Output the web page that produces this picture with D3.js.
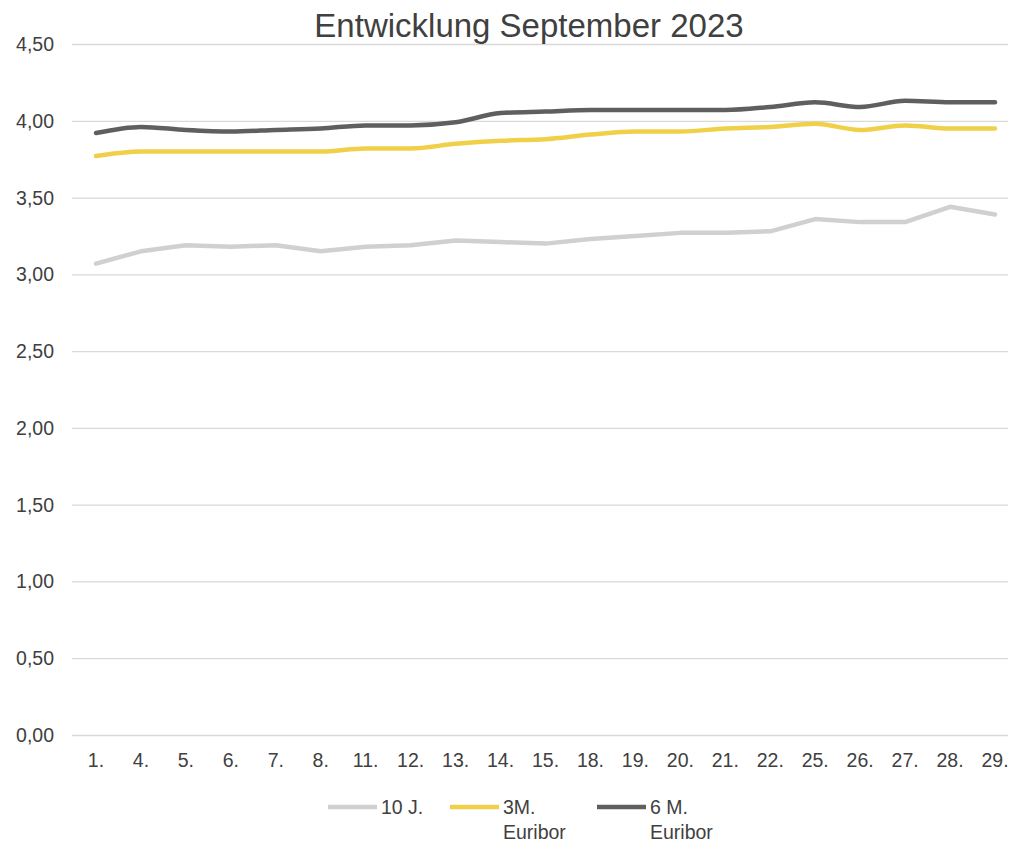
<!DOCTYPE html>
<html>
<head>
<meta charset="utf-8">
<style>
body { margin: 0; background: #fff; }
svg { display: block; font-family: "Liberation Sans", Arial, sans-serif; }
.grid line { stroke: #d9d9d9; stroke-width: 1.3px; }
.grid .domain { display: none; }
.ylab { font-size: 19.5px; fill: #404040; }
.xlab { font-size: 19.5px; fill: #404040; }
.legend text { font-size: 19.5px; fill: #404040; }
</style>
<script src="https://d3js.org/d3.v7.min.js"></script>
</head>
<body>
<svg width="1010" height="842"></svg>
<script>
// days of September 2023 with quotes
var days = ["1.", "4.", "5.", "6.", "7.", "8.", "11.", "12.", "13.", "14.", "15.",
            "18.", "19.", "20.", "21.", "22.", "25.", "26.", "27.", "28.", "29."];

var zehnJahre = [3.07, 3.15, 3.19, 3.18, 3.19, 3.15, 3.18, 3.19, 3.22, 3.21, 3.20,
                 3.23, 3.25, 3.27, 3.27, 3.28, 3.36, 3.34, 3.34, 3.44, 3.39];

var euribor3M = [3.77, 3.80, 3.80, 3.80, 3.80, 3.80, 3.82, 3.82, 3.85, 3.87, 3.88,
                 3.91, 3.93, 3.93, 3.95, 3.96, 3.98, 3.94, 3.97, 3.95, 3.95];

var euribor6M = [3.92, 3.96, 3.94, 3.93, 3.94, 3.95, 3.97, 3.97, 3.99, 4.05, 4.06,
                 4.07, 4.07, 4.07, 4.07, 4.09, 4.12, 4.09, 4.13, 4.12, 4.12];

var yTicks = [0, 0.5, 1, 1.5, 2, 2.5, 3, 3.5, 4, 4.5];

var series = [
  {name: ["10 J."], values: zehnJahre, color: "#d0d0d0", curve: d3.curveLinear},
  {name: ["3M.", "Euribor"], values: euribor3M, color: "#f0d048", curve: d3.curveMonotoneX},
  {name: ["6 M.", "Euribor"], values: euribor6M, color: "#5f5f5f", curve: d3.curveMonotoneX}
];

var svg = d3.select("svg");

var de = d3.formatLocale({decimal: ",", thousands: ".", grouping: [3], currency: ["", " €"]});
var fmt = de.format(".2f");

var x = d3.scalePoint()
    .domain(days)
    .range([96, 995]);

var y = d3.scaleLinear()
    .domain([0, 4.5])
    .range([735, 44]);

// gridlines
svg.append("g")
    .attr("class", "grid")
    .attr("transform", "translate(1008,0)")
    .call(d3.axisLeft(y).tickValues(yTicks).tickSize(936).tickFormat(""));

svg.append("g")
  .selectAll("text")
  .data(yTicks)
  .enter().append("text")
    .attr("class", "ylab")
    .attr("x", 54)
    .attr("y", function(d) { return y(d); })
    .attr("dy", "0.36em")
    .attr("text-anchor", "end")
    .text(function(d) { return fmt(d); });

svg.append("g")
  .selectAll("text")
  .data(days)
  .enter().append("text")
    .attr("class", "xlab")
    .attr("x", function(d) { return x(d); })
    .attr("y", 767)
    .attr("text-anchor", "middle")
    .text(function(d) { return d; });

// lines
series.forEach(function(s) {
  var line = d3.line()
      .curve(s.curve)
      .x(function(d, i) { return x(days[i]); })
      .y(function(d) { return y(d); });
  svg.append("path")
      .datum(s.values)
      .attr("fill", "none")
      .attr("stroke", s.color)
      .attr("stroke-width", 4.5)
      .attr("stroke-linejoin", "round")
      .attr("stroke-linecap", "round")
      .attr("d", line);
});

// title
svg.append("text")
    .attr("x", 529)
    .attr("y", 37)
    .attr("text-anchor", "middle")
    .attr("font-size", "33px")
    .attr("fill", "#404040")
    .text("Entwicklung September 2023");

// legend
var legendX = [328, 450, 597];
var legend = svg.append("g")
    .attr("class", "legend")
  .selectAll("g")
  .data(series)
  .enter().append("g")
    .attr("transform", function(d, i) { return "translate(" + legendX[i] + ",807)"; });

legend.append("line")
    .attr("x1", 0)
    .attr("x2", 49)
    .attr("stroke", function(d) { return d.color; })
    .attr("stroke-width", 4.5);

legend.append("text")
    .attr("x", 53)
    .attr("y", 6.5)
  .selectAll("tspan")
  .data(function(d) { return d.name; })
  .enter().append("tspan")
    .attr("x", 53)
    .attr("dy", function(d, i) { return i ? 25 : 0; })
    .text(function(d) { return d; });
</script>
</body>
</html>
